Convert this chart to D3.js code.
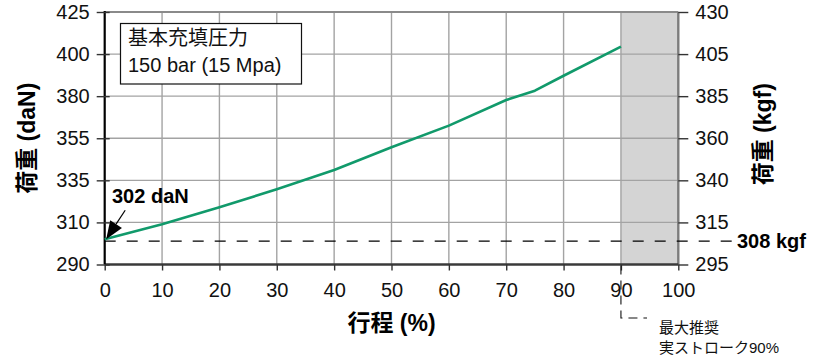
<!DOCTYPE html>
<html>
<head>
<meta charset="utf-8">
<script src="https://cdn.jsdelivr.net/npm/d3@7"></script>
<style>
  html, body { margin: 0; padding: 0; background: #fff; }
  svg { display: block; font-family: "Liberation Sans", Arial, "Noto Sans CJK JP", sans-serif; }
  .cjk { font-family: "Liberation Sans", "Noto Sans CJK JP", sans-serif; }
</style>
</head>
<body>
<svg id="chart" width="824" height="356"></svg>
<script>
// Stroke (%) and load (daN) of the gas spring curve
const strokePct = [0, 10, 20, 30, 40, 50, 60, 70, 75, 80, 90];
const loadDaN   = [302, 309.1, 319, 329.7, 339.9, 350.7, 362.5, 377.7, 382.6, 389.7, 404.4];

// Axis tick labels
const xTicks     = [0, 10, 20, 30, 40, 50, 60, 70, 80, 90, 100];
const leftTicks  = [290, 310, 335, 355, 380, 400, 425];   // daN
const rightTicks = [295, 315, 340, 360, 385, 405, 430];   // kgf

// Annotations
const startLoadDaN = 302;
const startLoadKgf = 308;
const kgfPerDaN = 1.0197;
const maxStrokePct = 90;
const boxLines = ["基本充填圧力", "150 bar (15 Mpa)"];
const noteLines = ["最大推奨", "実ストローク90%"];

const svg = d3.select("#chart");
const plot = { left: 104.7, right: 678.3, top: 12, bottom: 264.5 };

const x = d3.scaleLinear().domain([0, 100]).range([plot.left, plot.right]);
// Ticks are evenly spaced, so both load axes are piecewise linear
const slot = d3.scaleLinear().domain([0, leftTicks.length - 1]).range([plot.bottom, plot.top]);
const yLeft = d3.scaleLinear().domain(leftTicks).range(leftTicks.map((_, i) => slot(i)));
const yRight = d3.scaleLinear().domain(rightTicks).range(rightTicks.map((_, i) => slot(i)));

// Region beyond the recommended stroke
svg.append("rect")
  .attr("x", x(maxStrokePct)).attr("y", plot.top)
  .attr("width", x(100) - x(maxStrokePct)).attr("height", plot.bottom - plot.top)
  .attr("fill", "#d4d4d4");

// Grid
const grid = svg.append("g").attr("stroke", "#a3a3a3").attr("stroke-width", 1.4);
grid.selectAll("line.h").data(leftTicks.slice(1, -1)).join("line")
  .attr("x1", plot.left).attr("x2", plot.right)
  .attr("y1", d => yLeft(d)).attr("y2", d => yLeft(d));
grid.selectAll("line.v").data(xTicks.slice(1, -1)).join("line")
  .attr("y1", plot.top).attr("y2", plot.bottom)
  .attr("x1", d => x(d)).attr("x2", d => x(d));

// Frame
svg.append("line").attr("x1", plot.left).attr("x2", plot.right).attr("y1", plot.top).attr("y2", plot.top)
  .attr("stroke", "#8a8a8a").attr("stroke-width", 2);
svg.append("line").attr("x1", plot.right).attr("x2", plot.right).attr("y1", plot.top).attr("y2", plot.bottom)
  .attr("stroke", "#7c7c7c").attr("stroke-width", 2.4);

// Axes
const fontSize = 20;
const gx = svg.append("g").attr("transform", `translate(0,${plot.bottom})`)
  .call(d3.axisBottom(x).tickValues(xTicks).tickSize(6).tickPadding(12).tickFormat(d3.format("d")));
const gl = svg.append("g").attr("transform", `translate(${plot.left},0)`)
  .call(d3.axisLeft(yLeft).tickValues(leftTicks).tickSize(8).tickPadding(7).tickFormat(d3.format("d")));
const gr = svg.append("g").attr("transform", `translate(${plot.right},0)`)
  .call(d3.axisRight(yRight).tickValues(rightTicks).tickSize(10).tickPadding(7).tickFormat(d3.format("d")));

[gx, gl, gr].forEach(g => {
  g.selectAll("text").attr("font-size", fontSize).attr("fill", "#111")
    .attr("font-family", "'Liberation Sans', Arial, sans-serif");
  g.selectAll(".tick line").attr("stroke", "#333").attr("stroke-width", 1.4);
});
gl.selectAll(".tick line").attr("x1", 5);
gl.select(".domain").attr("stroke", "#000").attr("stroke-width", 2.2).attr("d", `M0,${plot.top - 1}V${plot.bottom}`);
gx.select(".domain").attr("stroke", "#3a3a3a").attr("stroke-width", 2.6).attr("d", `M${plot.left},0H${plot.right}`);
gr.select(".domain").remove();

// Axis titles
svg.append("text").attr("class", "cjk")
  .attr("transform", `translate(35,${(plot.top + plot.bottom) / 2}) rotate(-90)`)
  .attr("text-anchor", "middle").attr("font-weight", "bold").attr("font-size", 23)
  .text("荷重 (daN)");
svg.append("text").attr("class", "cjk")
  .attr("transform", `translate(771,${(plot.top + plot.bottom) / 2 - 4}) rotate(-90)`)
  .attr("text-anchor", "middle").attr("font-weight", "bold").attr("font-size", 23)
  .text("荷重 (kgf)");
svg.append("text").attr("class", "cjk")
  .attr("x", (plot.left + plot.right) / 2).attr("y", 331)
  .attr("text-anchor", "middle").attr("font-weight", "bold").attr("font-size", 23)
  .text("行程 (%)");

// Initial load reference line (308 kgf = 302 daN)
const yStart = yLeft(startLoadKgf / kgfPerDaN);
svg.append("line")
  .attr("x1", plot.left).attr("x2", 733).attr("y1", yStart + 2).attr("y2", yStart + 2)
  .attr("stroke", "#000").attr("stroke-width", 1.3).attr("stroke-dasharray", "11,11");
svg.append("text")
  .attr("x", 737).attr("y", yStart + 9)
  .attr("font-weight", "bold").attr("font-size", 20)
  .text(`${startLoadKgf} kgf`);

// Load curve
const pts = strokePct.map((s, i) => [s, loadDaN[i]]);
svg.append("path").datum(pts)
  .attr("fill", "none").attr("stroke", "#119a6b").attr("stroke-width", 2.6)
  .attr("stroke-linejoin", "round")
  .attr("d", d3.line().x(d => x(d[0])).y(d => yLeft(d[1])));

// Start value callout
const tip = [x(strokePct[0]) + 1.5, yLeft(startLoadDaN)];
const tail = [tip[0] + 19, tip[1] - 29];
const len = Math.hypot(tail[0] - tip[0], tail[1] - tip[1]);
const ux = (tail[0] - tip[0]) / len, uy = (tail[1] - tip[1]) / len;
const headLen = 18, headHalf = 7;
const base = [tip[0] + ux * headLen, tip[1] + uy * headLen];
svg.append("line")
  .attr("x1", base[0]).attr("y1", base[1]).attr("x2", tail[0]).attr("y2", tail[1])
  .attr("stroke", "#000").attr("stroke-width", 1.2);
svg.append("polygon")
  .attr("points", [tip,
    [base[0] - uy * headHalf, base[1] + ux * headHalf],
    [base[0] + uy * headHalf, base[1] - ux * headHalf]].map(p => p.join(",")).join(" "))
  .attr("fill", "#000");
svg.append("text")
  .attr("x", 112).attr("y", 203)
  .attr("font-weight", "bold").attr("font-size", 20)
  .text(`${startLoadDaN} daN`);

// Charge pressure box
svg.append("rect")
  .attr("x", 120.5).attr("y", 23.5).attr("width", 181).attr("height", 60.5)
  .attr("fill", "#fff").attr("stroke", "#111").attr("stroke-width", 1.2);
svg.append("text").attr("class", "cjk")
  .attr("font-size", 20).attr("fill", "#111")
  .selectAll("tspan").data(boxLines).join("tspan")
  .attr("x", 128).attr("y", (d, i) => 45 + i * 26.5)
  .text(d => d);

// Recommended max stroke marker
const xMax = x(maxStrokePct);
svg.append("path")
  .attr("d", `M${xMax},${plot.bottom + 1}V318H647`)
  .attr("fill", "none").attr("stroke", "#111").attr("stroke-width", 1.1)
  .attr("stroke-dasharray", "9,6");
svg.append("text").attr("class", "cjk")
  .attr("font-size", 15).attr("fill", "#111")
  .selectAll("tspan").data(noteLines).join("tspan")
  .attr("x", 659).attr("y", (d, i) => 333 + i * 19.5)
  .text(d => d);
</script>
</body>
</html>
